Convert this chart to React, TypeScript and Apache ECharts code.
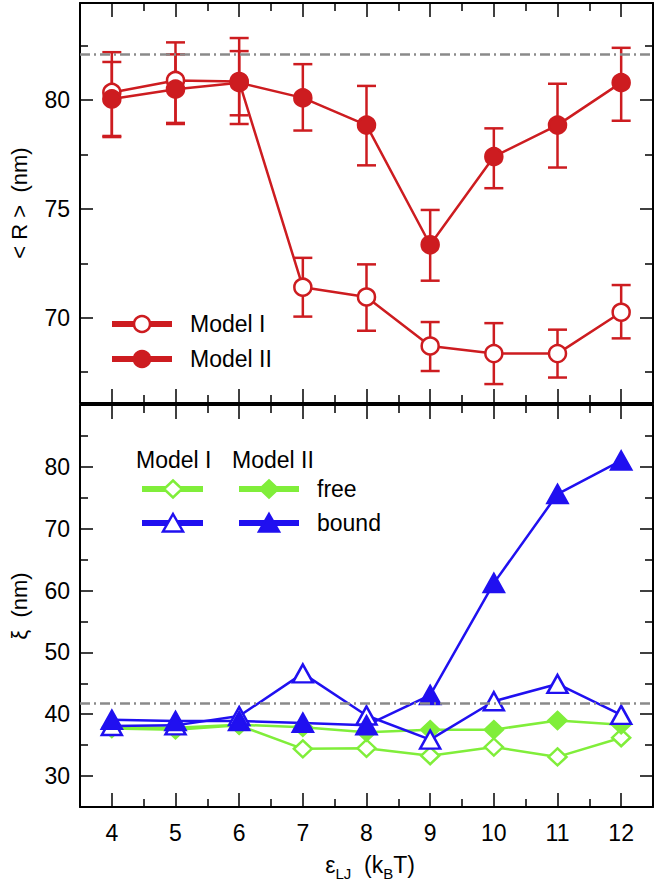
import React, { useEffect, useRef } from "react";
import * as echarts from "echarts";

// ---------- data ----------
const EPS = [4, 5, 6, 7, 8, 9, 10, 11, 12];

const R_MODEL_I = [80.35, 80.9, 80.85, 71.4, 70.95, 68.7, 68.35, 68.35, 70.25];
const R_MODEL_I_LOW = [78.35, 78.95, 78.9, 70.05, 69.4, 67.55, 66.95, 67.25, 69.05];
const R_MODEL_I_HIGH = [82.2, 82.65, 82.85, 72.75, 72.45, 69.8, 69.75, 69.45, 71.5];

const R_MODEL_II = [80.05, 80.5, 80.8, 80.1, 78.85, 73.35, 77.4, 78.85, 80.8];
const R_MODEL_II_LOW = [78.3, 78.9, 79.3, 78.6, 77.0, 71.7, 75.95, 76.9, 79.05];
const R_MODEL_II_HIGH = [81.75, 82.1, 82.25, 81.65, 80.65, 74.95, 78.7, 80.75, 82.4];

const XI_FREE_I = [37.7, 37.5, 38.2, 34.4, 34.5, 33.3, 34.7, 33.1, 36.2];
const XI_FREE_II = [37.9, 37.8, 38.3, 37.9, 37.1, 37.5, 37.5, 39.0, 38.3];
const XI_BOUND_I = [38.1, 38.2, 39.7, 46.6, 39.8, 35.9, 42.1, 44.9, 39.9];
const XI_BOUND_II = [39.1, 38.9, 38.9, 38.6, 38.2, 43.1, 61.2, 75.6, 81.0];

const R_REF = 82.1;
const XI_REF = 41.8;

const X_TICKS = [4, 5, 6, 7, 8, 9, 10, 11, 12];
const X_MINOR = [4.5, 5.5, 6.5, 7.5, 8.5, 9.5, 10.5, 11.5];
const R_TICKS = [70, 75, 80];
const R_MINOR = [67.5, 72.5, 77.5, 82.5];
const XI_TICKS = [30, 40, 50, 60, 70, 80];
const XI_MINOR = [35, 45, 55, 65, 75, 85];

// x-axis title pieces: [text, isSubscript]
const X_TITLE: [string, boolean][] = [
  ["ε", false],
  ["LJ", true],
  ["  (k", false],
  ["B", true],
  ["T)", false],
];

// ---------- style ----------
const RED = "#cd1c20";
const BLUE = "#2010f0";
const GREEN = "#80ee3a";
const FONT = "'Liberation Sans', Arial, Helvetica, sans-serif";
const FS = 23;
const SUB_FS = 15;

const X_MIN = 3.5;
const X_MAX = 12.5;

function xAxes(grid: number, labels: boolean) {
  const base = {
    type: "value",
    gridIndex: grid,
    min: X_MIN,
    max: X_MAX,
    splitLine: { show: false },
  };
  const line = { show: true, onZero: false, lineStyle: { color: "#000", width: 2 } };
  const tick = (vals: number[], len: number) => ({
    show: true,
    inside: true,
    length: len,
    customValues: vals,
    lineStyle: { color: "#000", width: 1.5 },
  });
  return [
    {
      ...base,
      position: "bottom",
      axisLine: line,
      axisTick: tick(X_TICKS, 14),
      axisLabel: {
        show: labels,
        customValues: X_TICKS,
        margin: 14,
        fontSize: FS,
        color: "#000",
        fontFamily: FONT,
      },
    },
    {
      ...base,
      position: "bottom",
      axisLine: { show: false },
      axisTick: tick(X_MINOR, 8),
      axisLabel: { show: false },
    },
    {
      ...base,
      position: "top",
      axisLine: line,
      axisTick: tick(X_TICKS, 14),
      axisLabel: { show: false },
    },
    {
      ...base,
      position: "top",
      axisLine: { show: false },
      axisTick: tick(X_MINOR, 8),
      axisLabel: { show: false },
    },
  ];
}

function yAxes(grid: number, min: number, max: number, major: number[], minor: number[], name: string, nameGap: number) {
  const base = {
    type: "value",
    gridIndex: grid,
    min,
    max,
    splitLine: { show: false },
  };
  const line = { show: true, onZero: false, lineStyle: { color: "#000", width: 2 } };
  const tick = (vals: number[], len: number) => ({
    show: true,
    inside: true,
    length: len,
    customValues: vals,
    lineStyle: { color: "#000", width: 1.5 },
  });
  return [
    {
      ...base,
      position: "left",
      axisLine: line,
      axisTick: tick(major, 13),
      axisLabel: {
        show: true,
        customValues: major,
        margin: 10,
        fontSize: FS,
        color: "#000",
        fontFamily: FONT,
      },
      name,
      nameLocation: "middle",
      nameRotate: 90,
      nameGap,
      nameTextStyle: { fontSize: 22, color: "#000", fontFamily: FONT },
    },
    {
      ...base,
      position: "left",
      axisLine: { show: false },
      axisTick: tick(minor, 8),
      axisLabel: { show: false },
    },
    {
      ...base,
      position: "right",
      axisLine: line,
      axisTick: tick(major, 13),
      axisLabel: { show: false },
    },
    {
      ...base,
      position: "right",
      axisLine: { show: false },
      axisTick: tick(minor, 8),
      axisLabel: { show: false },
    },
  ];
}

function errorBars(xAxisIndex: number, yAxisIndex: number, low: number[], high: number[], color: string) {
  return {
    type: "custom",
    xAxisIndex,
    yAxisIndex,
    z: 1,
    silent: true,
    data: EPS.map((x, i) => [x, low[i], high[i]]),
    encode: { x: 0, y: [1, 2] },
    renderItem: (params: any, api: any) => {
      const x = api.value(0);
      const p1 = api.coord([x, api.value(1)]);
      const p2 = api.coord([x, api.value(2)]);
      const w = 9.5;
      const st = { stroke: color, lineWidth: 2.5 };
      return {
        type: "group",
        children: [
          { type: "line", shape: { x1: p1[0], y1: p1[1], x2: p2[0], y2: p2[1] }, style: st },
          { type: "line", shape: { x1: p1[0] - w, y1: p1[1], x2: p1[0] + w, y2: p1[1] }, style: st },
          { type: "line", shape: { x1: p2[0] - w, y1: p2[1], x2: p2[0] + w, y2: p2[1] }, style: st },
        ],
      };
    },
  };
}

function lineSeries(
  name: string,
  xAxisIndex: number,
  yAxisIndex: number,
  values: number[],
  color: string,
  symbol: string,
  size: any,
  filled: boolean
) {
  return {
    type: "line",
    name,
    xAxisIndex,
    yAxisIndex,
    z: 3,
    data: EPS.map((x, i) => [x, values[i]]),
    symbol,
    symbolSize: size,
    showAllSymbol: true,
    lineStyle: { color, width: 2.5 },
    itemStyle: { color: filled ? color : "#fff", borderColor: color, borderWidth: 2.5 },
  };
}

function refLine(xAxisIndex: number, yAxisIndex: number, value: number) {
  return {
    type: "line",
    xAxisIndex,
    yAxisIndex,
    data: [],
    silent: true,
    z: 2,
    markLine: {
      silent: true,
      symbol: "none",
      label: { show: false },
      lineStyle: { color: "#8a8a8a", width: 2.5, type: [10, 4, 2, 4] },
      data: [{ yAxis: value }],
    },
  };
}

function txt(x: number, y: number, text: string, size = FS) {
  return {
    type: "text",
    x,
    y,
    style: {
      text,
      fontSize: size,
      fontFamily: FONT,
      fill: "#000",
      textVerticalAlign: "middle",
      verticalAlign: "middle",
    },
  };
}

function xTitleGraphics(centerX: number, mainY: number, subY: number) {
  const canvas = document.createElement("canvas");
  const ctx = canvas.getContext("2d");
  const widthOf = (s: string, size: number) => {
    if (!ctx) return s.length * size * 0.55;
    ctx.font = `${size}px 'Liberation Sans', Arial, sans-serif`;
    return ctx.measureText(s).width;
  };
  const widths = X_TITLE.map(([s, sub]) => widthOf(s, sub ? SUB_FS : FS));
  const total = widths.reduce((a, b) => a + b, 0);
  let x = centerX - total / 2;
  const out: any[] = [];
  X_TITLE.forEach(([s, sub], i) => {
    out.push(txt(x, sub ? subY : mainY, s, sub ? SUB_FS : FS));
    x += widths[i];
  });
  return out;
}

function legendGraphics() {
  const seg = (x1: number, x2: number, y: number, color: string) => ({
    type: "line",
    shape: { x1, y1: y, x2, y2: y },
    style: { stroke: color, lineWidth: 6 },
  });
  const diamond = (cx: number, cy: number, color: string, filled: boolean) => ({
    type: "polygon",
    shape: {
      points: [
        [cx, cy - 8.5],
        [cx + 9, cy],
        [cx, cy + 8.5],
        [cx - 9, cy],
      ],
    },
    style: { fill: filled ? color : "#fff", stroke: color, lineWidth: 2.5 },
  });
  const tri = (cx: number, cy: number, color: string, filled: boolean) => ({
    type: "polygon",
    shape: {
      points: [
        [cx, cy - 9],
        [cx + 10, cy + 8.5],
        [cx - 10, cy + 8.5],
      ],
    },
    style: { fill: filled ? color : "#fff", stroke: color, lineWidth: 2.5 },
  });
  return [
    // top legend
    seg(112, 172, 324, RED),
    { type: "circle", shape: { cx: 142, cy: 324, r: 8 }, style: { fill: "#fff", stroke: RED, lineWidth: 2.5 } },
    txt(190, 324, "Model I"),
    seg(112, 172, 359, RED),
    { type: "circle", shape: { cx: 142, cy: 359, r: 8 }, style: { fill: RED, stroke: RED, lineWidth: 2.5 } },
    txt(190, 359, "Model II"),
    // bottom legend
    txt(136, 460, "Model I"),
    txt(232, 460, "Model II"),
    seg(142, 203, 489, GREEN),
    diamond(173, 489, GREEN, false),
    seg(239, 299, 489, GREEN),
    diamond(269, 489, GREEN, true),
    txt(317, 489, "free"),
    seg(142, 203, 523, BLUE),
    tri(173, 523, BLUE, false),
    seg(239, 299, 523, BLUE),
    tri(269, 523, BLUE, true),
    txt(317, 523, "bound"),
  ];
}

export default function App() {
  const ref = useRef<HTMLDivElement>(null);

  useEffect(() => {
    document.body.style.margin = "0";
    if (!ref.current) return;
    const chart = echarts.init(ref.current, null, { renderer: "svg" });

    const option: any = {
      animation: false,
      backgroundColor: "#fff",
      textStyle: { fontFamily: FONT },
      grid: [
        { left: 77, top: 3, width: 576, height: 400, containLabel: false },
        { left: 77, top: 405, width: 576, height: 402, containLabel: false },
      ],
      xAxis: [...xAxes(0, false), ...xAxes(1, true)],
      yAxis: [
        ...yAxes(0, 66.08, 84.46, R_TICKS, R_MINOR, "< R >  (nm)", 50),
        ...yAxes(1, 25, 90, XI_TICKS, XI_MINOR, "ξ  (nm)", 50),
      ],
      series: [
        refLine(0, 0, R_REF),
        errorBars(0, 0, R_MODEL_I_LOW, R_MODEL_I_HIGH, RED),
        errorBars(0, 0, R_MODEL_II_LOW, R_MODEL_II_HIGH, RED),
        lineSeries("Model I", 0, 0, R_MODEL_I, RED, "circle", 17, false),
        lineSeries("Model II", 0, 0, R_MODEL_II, RED, "circle", 17, true),
        refLine(4, 4, XI_REF),
        lineSeries("free I", 4, 4, XI_FREE_I, GREEN, "diamond", [18, 17], false),
        lineSeries("free II", 4, 4, XI_FREE_II, GREEN, "diamond", [18, 17], true),
        lineSeries("bound I", 4, 4, XI_BOUND_I, BLUE, "triangle", [20, 18], false),
        lineSeries("bound II", 4, 4, XI_BOUND_II, BLUE, "triangle", [20, 18], true),
      ],
      graphic: [...legendGraphics(), ...xTitleGraphics(370, 865, 873)],
    };

    chart.setOption(option);
    return () => chart.dispose();
  }, []);

  return <div ref={ref} style={{ width: 654, height: 883 }} />;
}
